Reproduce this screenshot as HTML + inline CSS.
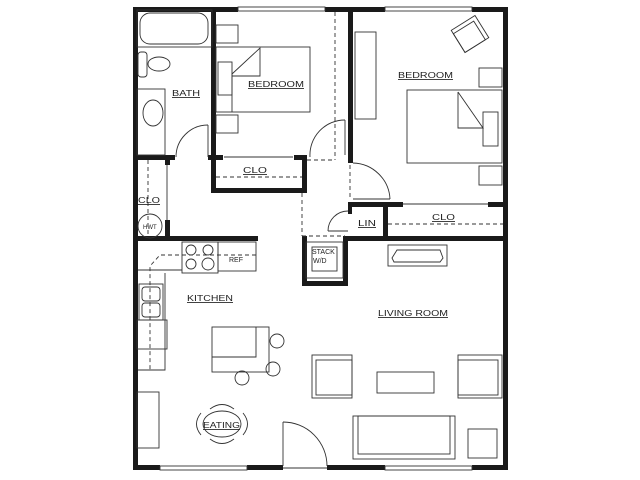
<!DOCTYPE html>
<html><head><meta charset="utf-8"><style>body{margin:0;background:#fff}svg{display:block}</style></head><body>
<svg width="640" height="480" viewBox="0 0 640 480" xmlns="http://www.w3.org/2000/svg" font-family="Liberation Sans, sans-serif" font-size="8.5">
<rect width="640" height="480" fill="#fff"/>
<g fill="#1a1a1a">
<!-- outer walls -->
<rect x="133" y="7" width="105" height="5"/><rect x="325" y="7" width="60" height="5"/><rect x="472" y="7" width="36" height="5"/>
<rect x="133" y="7" width="5" height="463"/><rect x="503" y="7" width="5" height="463"/>
<rect x="133" y="465" width="27" height="5"/><rect x="247" y="465" width="36" height="5"/><rect x="327" y="465" width="58" height="5"/><rect x="472" y="465" width="36" height="5"/>
<!-- bath/bedroom wall -->
<rect x="211" y="7" width="5" height="186"/>
<rect x="133" y="155" width="42" height="5"/><rect x="208" y="155" width="8" height="5"/>
<!-- closet bedroom1 -->
<rect x="211" y="155" width="12" height="5"/><rect x="294" y="155" width="13" height="5"/>
<rect x="211" y="188" width="96" height="5"/><rect x="302" y="155" width="5" height="38"/>
<!-- wall between bedrooms -->
<rect x="348" y="7" width="5" height="156"/>
<rect x="348" y="202" width="55" height="5"/><rect x="488" y="202" width="20" height="5"/>
<rect x="348" y="202" width="4" height="12"/>
<rect x="383" y="202" width="5" height="38"/>
<!-- left closet -->
<rect x="165" y="157" width="5" height="8"/><rect x="165" y="220" width="5" height="20"/>
<!-- living top wall -->
<rect x="133" y="236" width="125" height="5"/><rect x="345" y="236" width="163" height="5"/>
<!-- stack box -->
<rect x="302" y="236" width="5" height="50"/><rect x="343" y="236" width="5" height="50"/><rect x="302" y="281" width="46" height="5"/>
</g>
<g fill="none" stroke="#333" stroke-width="0.9">
<!-- windows -->
<rect x="238" y="7" width="87" height="4"/><rect x="385" y="7" width="87" height="4"/>
<rect x="160" y="466" width="87" height="4"/><rect x="385" y="466" width="87" height="4"/>
<line x1="283" y1="468" x2="327" y2="468"/>
<!-- dashed -->
<g stroke-dasharray="4,3">
<line x1="335" y1="12" x2="335" y2="160"/><line x1="307" y1="160" x2="335" y2="160"/>
<line x1="302" y1="193" x2="302" y2="236"/><line x1="302" y1="236" x2="345" y2="236"/>
<line x1="350" y1="165" x2="350" y2="200"/>
<line x1="216" y1="177" x2="302" y2="177"/><line x1="388" y1="224" x2="503" y2="224"/>
<line x1="148" y1="160" x2="148" y2="236"/>
<path d="M256 255 H160 L150 266 V370"/>
</g>
<!-- sliding doors -->
<line x1="224" y1="157" x2="293" y2="157"/><line x1="403" y1="204" x2="488" y2="204"/>
<line x1="167" y1="165" x2="167" y2="220"/>
<!-- doors -->
<line x1="208" y1="125" x2="208" y2="157"/><path d="M176 157 A32 32 0 0 1 208 125"/>
<line x1="345" y1="120" x2="345" y2="155"/><path d="M310 157 A35 35 0 0 1 345 120"/>
<line x1="353" y1="199" x2="390" y2="199"/><path d="M390 199 A38 38 0 0 0 353 163"/>
<line x1="328" y1="231" x2="348" y2="231"/><path d="M328 231 A20 20 0 0 1 348 211"/>
<line x1="283" y1="422" x2="283" y2="466"/><path d="M283 422 A44 44 0 0 1 327 466"/>
<!-- bath -->
<rect x="137" y="10" width="75" height="37"/><rect x="140" y="13" width="68" height="31" rx="10"/>
<rect x="138" y="52" width="9" height="25" rx="3"/><ellipse cx="159" cy="64" rx="11" ry="7"/>
<rect x="137" y="89" width="28" height="66"/><ellipse cx="153" cy="113" rx="10" ry="13"/>
<circle cx="150" cy="226" r="12"/>
<!-- bedroom1 -->
<rect x="216" y="25" width="22" height="18"/><rect x="216" y="115" width="22" height="18"/>
<rect x="216" y="47" width="94" height="65"/><rect x="218" y="62" width="14" height="33"/>
<path d="M232 112 V74 L260 48 V76 H232"/>
<!-- bedroom2 -->
<rect x="355" y="32" width="21" height="87"/>
<g transform="translate(470 34) rotate(-32)"><rect x="-14" y="-13" width="28" height="26"/><rect x="-14" y="-9" width="24" height="22"/></g>
<rect x="479" y="68" width="23" height="19"/><rect x="479" y="166" width="23" height="19"/>
<rect x="407" y="90" width="95" height="73"/><rect x="483" y="112" width="15" height="34"/>
<path d="M458 92 V128 H483 L458 92"/>
<!-- living -->
<rect x="388" y="245" width="59" height="21"/><path d="M392 258 L397 250 H440 L443 258 L440 262 H394 Z"/>
<rect x="306" y="242" width="37" height="36"/><rect x="312" y="247" width="25" height="24"/>
<rect x="312" y="355" width="40" height="43"/><rect x="316" y="360" width="36" height="35"/>
<rect x="377" y="372" width="57" height="21"/>
<rect x="458" y="355" width="44" height="43"/><rect x="458" y="360" width="40" height="35"/>
<rect x="353" y="416" width="102" height="43"/><rect x="358" y="416" width="92" height="38"/>
<rect x="468" y="429" width="29" height="29"/>
<!-- kitchen -->
<rect x="182" y="242" width="36" height="31"/>
<circle cx="191" cy="250" r="5"/><circle cx="208" cy="250" r="5"/><circle cx="191" cy="264" r="5"/><circle cx="208" cy="264" r="6"/>
<rect x="218" y="242" width="38" height="29"/>
<path d="M138 270 H182 M165 273 V370 H138"/>
<rect x="139" y="284" width="24" height="36"/><rect x="142" y="287" width="18" height="14" rx="3"/><rect x="142" y="303" width="18" height="14" rx="3"/>
<rect x="137" y="320" width="30" height="29"/>
<rect x="212" y="327" width="57" height="45"/><path d="M212 357 H256 V327"/>
<circle cx="277" cy="341" r="7"/><circle cx="273" cy="369" r="7"/><circle cx="242" cy="378" r="7"/>
<rect x="137" y="392" width="22" height="56"/>
<ellipse cx="222" cy="424" rx="19" ry="13"/>
<path d="M210 409 Q222 400 234 409"/><path d="M210 439 Q222 448 234 439"/>
<path d="M201 413 Q192 424 201 435"/><path d="M243 413 Q252 424 243 435"/>
</g>
<g fill="#222" text-decoration="underline">
<text x="172" y="96" textLength="28" lengthAdjust="spacingAndGlyphs">BATH</text>
<text x="248" y="87" textLength="56" lengthAdjust="spacingAndGlyphs">BEDROOM</text>
<text x="398" y="78" textLength="55" lengthAdjust="spacingAndGlyphs">BEDROOM</text>
<text x="243" y="173" textLength="24" lengthAdjust="spacingAndGlyphs">CLO</text>
<text x="432" y="220" textLength="23" lengthAdjust="spacingAndGlyphs">CLO</text>
<text x="138" y="203" textLength="22" lengthAdjust="spacingAndGlyphs">CLO</text>
<text x="358" y="226" textLength="18" lengthAdjust="spacingAndGlyphs">LIN</text>
<text x="187" y="301" textLength="46" lengthAdjust="spacingAndGlyphs">KITCHEN</text>
<text x="378" y="316" textLength="70" lengthAdjust="spacingAndGlyphs">LIVING ROOM</text>
<text x="203" y="428" textLength="37" lengthAdjust="spacingAndGlyphs">EATING</text>
</g>
<g fill="#222" font-size="7">
<text x="229" y="262">REF</text>
<text x="312" y="254">STACK</text><text x="313" y="263">W/D</text>
<text x="143" y="229" font-size="6">HWT</text>
</g>
</svg>
</body></html>
